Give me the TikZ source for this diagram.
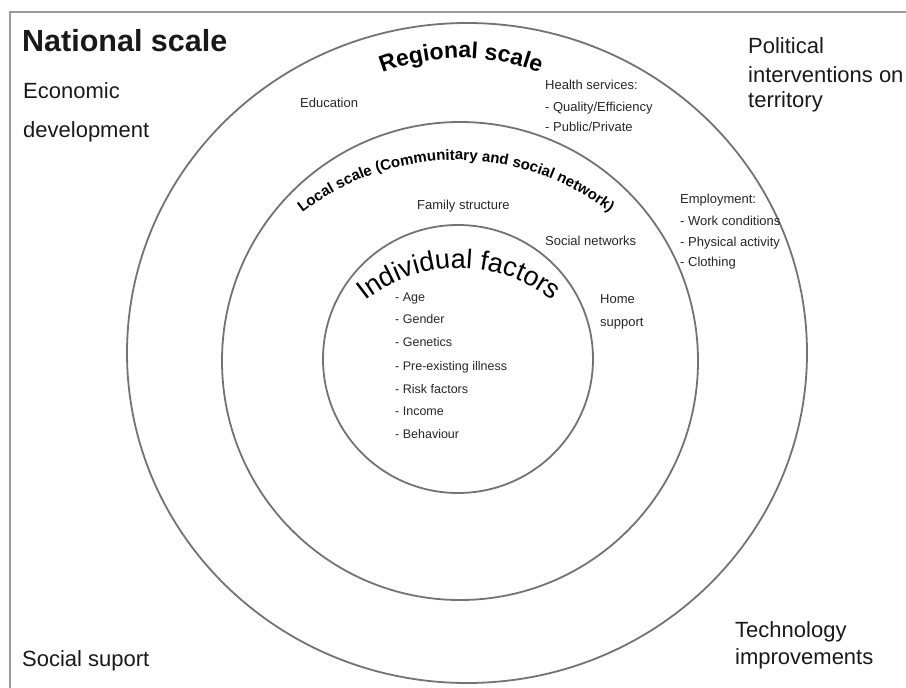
\documentclass[tikz,border=0pt]{standalone}
\usepackage{fontspec}
\setmainfont{Liberation Sans}
\usetikzlibrary{decorations.text}
\begin{document}
\begin{tikzpicture}[x=1pt,y=-1pt,
  ring/.style={draw=black!55, line width=1.8pt},
  frame/.style={draw=black!40, line width=2pt},
  big/.style={font=\fontsize{22}{26}\selectfont, anchor=base west, inner sep=0pt, text=black!90},
  small/.style={font=\fontsize{13}{15}\selectfont, anchor=base west, inner sep=0pt, text=black!85},
  listtxt/.style={font=\fontsize{12.5}{15}\selectfont, anchor=base west, inner sep=0pt, text=black!85},
]
\useasboundingbox (0,0) rectangle (906,688);
% frame
\draw[frame] (10,700) -- (10,12) -- (920,12);
% rings
\draw[ring] (467,353) ellipse [x radius=340, y radius=330];
\draw[ring] (460,361) ellipse [x radius=238, y radius=239];
\draw[ring] (458,359) ellipse [x radius=135, y radius=134];

% national scale texts
\node[big, font=\fontsize{30.5}{33}\selectfont\bfseries] (nat) at (22,52) {National scale};
\node[big] (eco1) at (23,98) {Economic};
\node[big] (eco2) at (23,137) {development};
\node[big] (pol1) at (748,53) {Political};
\node[big] (pol2) at (748,82) {interventions on};
\node[big] (pol3) at (748,107) {territory};
\node[big] (soc) at (22,666) {Social suport};
\node[big] (tec1) at (735,637) {Technology};
\node[big] (tec2) at (735,664) {improvements};

% regional scale
\path[decorate, decoration={text along path, text align=center,
  text={|\fontsize{23}{23}\selectfont\bfseries|Regional scale}}]
  (461,270) ++(-125:212) arc[start angle=-125, end angle=-55, radius=212];
\node[small] (edu) at (300,107) {Education};
\node[small] (hs1) at (545,89) {Health services:};
\node[small] (hs2) at (545,111) {- Quality/Efficiency};
\node[small] (hs3) at (545,131) {- Public/Private};
\node[small] (emp1) at (680,203) {Employment:};
\node[small] (emp2) at (680,225) {- Work conditions};
\node[small] (emp3) at (680,246) {- Physical activity};
\node[small] (emp4) at (680,266) {- Clothing};

% local scale
\path[decorate, decoration={text along path, text align=center,
  text={|\fontsize{15}{15}\selectfont\bfseries|Local scale (Communitary and social network)}}]
  (456,410) ++(-140:250) arc[start angle=-140, end angle=-40, radius=250];
\node[small] (fam) at (417,209) {Family structure};
\node[small] (snet) at (545,245) {Social networks};
\node[small] (home1) at (600,303) {Home};
\node[small] (home2) at (600,326) {support};

% individual factors
\path[decorate, decoration={text along path, text align=center,
  text={|\fontsize{27}{27}\selectfont|Individual factors}}]
  (459,418) ++(-150:150) arc[start angle=-150, end angle=-30, radius=150];
\node[listtxt] (l1) at (395,301) {- Age};
\node[listtxt] (l2) at (395,323) {- Gender};
\node[listtxt] (l3) at (395,346) {- Genetics};
\node[listtxt] (l4) at (395,370) {- Pre-existing illness};
\node[listtxt] (l5) at (395,393) {- Risk factors};
\node[listtxt] (l6) at (395,415) {- Income};
\node[listtxt] (l7) at (395,438) {- Behaviour};
\end{tikzpicture}
\end{document}
